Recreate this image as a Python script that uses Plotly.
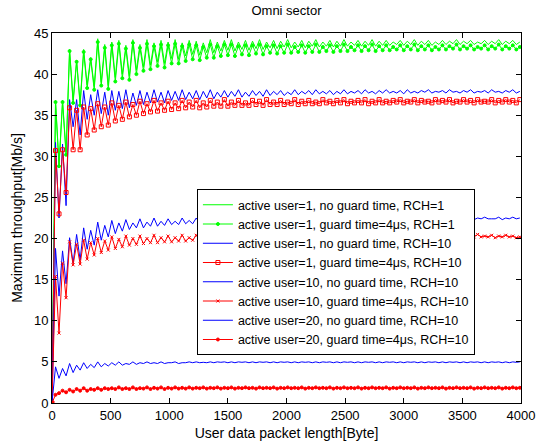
import plotly.graph_objects as go

# User data packet length in bytes (sampling grid of the throughput sweep)
packet_len = list(range(0, 4000, 30))

# Maximum throughput [Mb/s] per configuration
user1_noguard_rch1 = [
    0, 36.8, 29.0, 36.8, 30.5, 43.0, 36.8, 41.7, 36.5, 43.0,
    38.7, 42.0, 38.5, 44.3, 39.0, 43.6, 38.6, 43.9, 39.6, 44.1,
    40.0, 43.5, 39.8, 44.2, 40.5, 43.6, 40.9, 44.2, 41.1, 43.8,
    41.5, 44.1, 41.3, 43.9, 41.9, 44.2, 41.8, 43.8, 42.2, 44.1,
    42.4, 44.0, 42.3, 43.8, 42.6, 44.2, 42.6, 43.9, 42.8, 44.1,
    42.9, 44.2, 42.8, 43.9, 43.0, 44.1, 42.9, 44.0, 43.1, 44.2,
    43.0, 43.9, 43.2, 44.1, 43.1, 44.0, 43.3, 44.2, 43.2, 43.9,
    43.3, 44.1, 43.2, 44.0, 43.4, 44.2, 43.3, 43.9, 43.4, 44.1,
    43.3, 44.0, 43.4, 44.2, 43.4, 43.9, 43.5, 44.1, 43.4, 44.0,
    43.5, 44.2, 43.4, 44.0, 43.5, 44.1, 43.5, 43.9, 43.6, 44.1,
    43.5, 44.0, 43.6, 44.2, 43.5, 44.0, 43.6, 44.1, 43.5, 43.9,
    43.6, 44.1, 43.6, 44.0, 43.7, 44.2, 43.6, 44.0, 43.7, 44.1,
    43.6, 43.9, 43.7, 44.1, 43.6, 44.0, 43.7, 44.2, 43.6, 44.0,
    43.7, 44.1, 43.6, 43.9,
]
user1_guard_rch1 = [
    0, 36.6, 28.8, 36.6, 30.2, 42.8, 36.5, 41.5, 36.2, 42.7,
    38.3, 41.8, 38.1, 43.9, 38.6, 43.2, 38.2, 43.5, 39.1, 43.7,
    39.5, 43.1, 39.3, 43.8, 40.0, 43.2, 40.4, 43.7, 40.6, 43.4,
    41.0, 43.6, 40.8, 43.5, 41.3, 43.7, 41.3, 43.4, 41.6, 43.6,
    41.8, 43.5, 41.7, 43.3, 42.0, 43.6, 42.0, 43.4, 42.2, 43.6,
    42.3, 43.6, 42.2, 43.4, 42.4, 43.5, 42.3, 43.5, 42.5, 43.6,
    42.4, 43.4, 42.6, 43.5, 42.5, 43.4, 42.6, 43.6, 42.6, 43.3,
    42.7, 43.5, 42.6, 43.4, 42.7, 43.6, 42.7, 43.3, 42.8, 43.5,
    42.7, 43.4, 42.8, 43.6, 42.8, 43.3, 42.9, 43.5, 42.8, 43.4,
    42.9, 43.6, 42.8, 43.4, 42.9, 43.5, 42.9, 43.3, 43.0, 43.5,
    42.9, 43.4, 43.0, 43.6, 42.9, 43.4, 43.0, 43.5, 42.9, 43.3,
    43.0, 43.5, 43.0, 43.4, 43.1, 43.6, 43.0, 43.4, 43.1, 43.5,
    43.0, 43.3, 43.1, 43.5, 43.0, 43.4, 43.1, 43.6, 43.0, 43.4,
    43.1, 43.5, 43.0, 43.3,
]
user1_noguard_rch10 = [
    0, 31.7, 22.5, 31.5, 24.0, 36.9, 33.6, 36.9, 32.6, 38.0,
    34.5, 37.5, 35.0, 38.1, 35.2, 37.8, 35.0, 38.0, 35.6, 37.9,
    35.8, 38.1, 35.9, 37.7, 36.2, 38.0, 36.3, 37.8, 36.5, 38.1,
    36.6, 37.8, 36.5, 38.0, 36.8, 37.9, 36.8, 38.1, 36.9, 37.8,
    37.0, 38.0, 36.9, 37.9, 37.1, 38.1, 37.0, 37.8, 37.2, 38.0,
    37.2, 37.9, 37.3, 38.1, 37.2, 37.8, 37.3, 38.0, 37.4, 37.9,
    37.3, 38.1, 37.4, 37.9, 37.5, 38.0, 37.4, 37.8, 37.5, 38.1,
    37.5, 37.9, 37.6, 38.0, 37.5, 38.1, 37.6, 37.9, 37.6, 38.0,
    37.5, 37.9, 37.6, 38.1, 37.6, 37.9, 37.7, 38.0, 37.6, 38.1,
    37.7, 37.9, 37.6, 38.0, 37.7, 38.1, 37.7, 37.9, 37.7, 38.0,
    37.6, 38.1, 37.7, 37.9, 37.7, 38.0, 37.8, 38.1, 37.7, 37.9,
    37.8, 38.0, 37.7, 38.1, 37.8, 37.9, 37.7, 38.0, 37.8, 38.1,
    37.7, 37.9, 37.8, 38.0, 37.7, 38.1, 37.8, 37.9, 37.7, 38.0,
    37.8, 38.1, 37.7, 37.9,
]
user1_guard_rch10 = [
    0, 30.7, 23.0, 30.8, 25.6, 35.9, 30.8, 35.6, 30.8, 36.0,
    32.6, 35.8, 33.2, 36.4, 33.6, 36.0, 33.8, 36.5, 34.3, 36.2,
    34.5, 36.6, 34.8, 36.3, 35.0, 36.7, 35.2, 36.4, 35.4, 36.8,
    35.5, 36.5, 35.6, 36.7, 35.7, 36.5, 35.8, 36.8, 35.9, 36.6,
    36.0, 36.8, 35.9, 36.5, 36.0, 36.8, 36.1, 36.6, 36.1, 36.9,
    36.1, 36.6, 36.2, 36.8, 36.2, 36.5, 36.2, 36.8, 36.3, 36.7,
    36.2, 36.9, 36.3, 36.6, 36.3, 36.8, 36.3, 36.6, 36.4, 36.9,
    36.3, 36.7, 36.4, 36.8, 36.4, 36.6, 36.4, 36.9, 36.5, 36.7,
    36.4, 36.8, 36.5, 36.9, 36.4, 36.7, 36.5, 36.8, 36.5, 36.9,
    36.4, 36.7, 36.5, 36.9, 36.5, 36.7, 36.5, 36.8, 36.6, 36.9,
    36.5, 36.7, 36.6, 36.9, 36.5, 36.8, 36.6, 36.7, 36.5, 36.9,
    36.6, 36.8, 36.6, 36.9, 36.5, 36.7, 36.6, 36.9, 36.6, 36.8,
    36.5, 36.9, 36.6, 36.7, 36.6, 36.9, 36.5, 36.8, 36.6, 36.9,
    36.6, 36.8, 36.5, 36.9,
]
user10_noguard_rch10 = [
    0, 18.8, 13.0, 18.5, 14.5, 20.1, 17.0, 20.5, 17.4, 21.3,
    18.7, 21.0, 19.2, 22.0, 19.8, 21.6, 20.2, 22.2, 20.6, 21.9,
    20.9, 22.3, 21.1, 21.9, 21.3, 22.4, 21.3, 22.0, 21.5, 22.5,
    21.5, 22.1, 21.6, 22.4, 21.7, 22.1, 21.7, 22.5, 21.8, 22.2,
    21.8, 22.5, 21.9, 22.2, 21.9, 22.4, 21.9, 22.2, 22.0, 22.5,
    21.9, 22.3, 22.0, 22.5, 22.0, 22.2, 22.0, 22.4, 22.1, 22.6,
    22.0, 22.3, 22.1, 22.5, 22.1, 22.3, 22.1, 22.5, 22.1, 22.3,
    22.2, 22.5, 22.1, 22.4, 22.2, 22.6, 22.2, 22.3, 22.2, 22.5,
    22.2, 22.4, 22.3, 22.6, 22.2, 22.4, 22.3, 22.5, 22.3, 22.6,
    22.2, 22.4, 22.3, 22.6, 22.3, 22.4, 22.3, 22.5, 22.3, 22.6,
    22.3, 22.4, 22.4, 22.6, 22.3, 22.5, 22.4, 22.6, 22.3, 22.4,
    22.4, 22.6, 22.3, 22.5, 22.4, 22.6, 22.4, 22.4, 22.4, 22.6,
    22.3, 22.5, 22.4, 22.6, 22.4, 22.4, 22.4, 22.6, 22.3, 22.5,
    22.4, 22.6, 22.4, 22.5,
]
user10_guard_rch10 = [
    0, 15.4, 8.5, 17.0, 12.8, 19.6, 16.8, 19.3, 16.9, 19.8,
    17.5, 19.5, 18.0, 20.0, 18.3, 19.7, 18.6, 20.2, 18.8, 19.9,
    19.0, 20.3, 19.2, 20.0, 19.3, 20.3, 19.4, 20.0, 19.5, 20.4,
    19.5, 20.1, 19.6, 20.3, 19.6, 20.1, 19.7, 20.4, 19.7, 20.1,
    19.8, 20.4, 19.8, 20.2, 19.8, 20.4, 19.9, 20.1, 19.9, 20.4,
    19.9, 20.2, 19.9, 20.4, 20.0, 20.2, 19.9, 20.4, 20.0, 20.2,
    20.0, 20.4, 20.0, 20.2, 20.0, 20.5, 20.0, 20.2, 20.1, 20.4,
    20.0, 20.3, 20.1, 20.5, 20.1, 20.2, 20.1, 20.4, 20.1, 20.3,
    20.1, 20.5, 20.1, 20.3, 20.1, 20.4, 20.2, 20.3, 20.1, 20.5,
    20.2, 20.3, 20.1, 20.4, 20.2, 20.3, 20.2, 20.5, 20.1, 20.3,
    20.2, 20.4, 20.2, 20.3, 20.2, 20.5, 20.2, 20.3, 20.2, 20.4,
    20.1, 20.3, 20.2, 20.5, 20.2, 20.3, 20.2, 20.4, 20.2, 20.3,
    20.2, 20.5, 20.2, 20.3, 20.2, 20.4, 20.1, 20.3, 20.2, 20.4,
    20.2, 20.3, 20.1, 20.2,
]
user20_noguard_rch10 = [
    0, 4.4, 3.0, 4.2, 3.3, 4.8, 3.7, 4.6, 4.0, 4.9,
    4.2, 4.7, 4.3, 5.0, 4.4, 4.8, 4.5, 4.9, 4.6, 5.0,
    4.6, 4.8, 4.7, 5.0, 4.7, 4.9, 4.8, 5.0, 4.8, 4.9,
    4.8, 5.0, 4.8, 4.9, 4.9, 5.0, 4.8, 4.9, 4.9, 5.0,
    4.9, 5.0, 4.9, 4.95, 4.9, 5.0, 4.9, 5.0, 4.95, 5.0,
    4.9, 5.0, 4.9, 5.0, 4.95, 5.0, 4.9, 5.0, 4.9, 5.0,
    4.95, 5.0, 4.9, 5.0, 4.9, 5.0, 4.95, 5.0, 4.9, 5.0,
    4.9, 5.0, 4.95, 5.0, 4.9, 5.0, 4.9, 5.0, 4.95, 5.0,
    4.9, 5.0, 4.9, 5.0, 4.95, 5.0, 4.9, 5.0, 4.9, 5.0,
    4.95, 5.0, 4.9, 5.0, 4.9, 5.0, 4.95, 5.0, 4.9, 5.0,
    4.9, 5.0, 4.95, 5.0, 4.9, 5.0, 4.9, 5.0, 4.95, 5.0,
    4.9, 5.0, 4.9, 5.0, 4.95, 5.0, 4.9, 5.0, 4.9, 5.0,
    4.95, 5.0, 4.9, 5.0, 4.9, 5.0, 4.95, 5.0, 4.9, 5.0,
    4.9, 5.0, 4.95, 5.0,
]
user20_guard_rch10 = [
    0, 1.0, 1.2, 1.5, 1.3, 1.6, 1.4, 1.7, 1.5, 1.8,
    1.5, 1.7, 1.6, 1.8, 1.6, 1.8, 1.7, 1.8, 1.7, 1.9,
    1.7, 1.8, 1.7, 1.9, 1.7, 1.8, 1.75, 1.9, 1.7, 1.85,
    1.75, 1.9, 1.7, 1.85, 1.75, 1.9, 1.75, 1.85, 1.75, 1.9,
    1.75, 1.85, 1.8, 1.9, 1.75, 1.85, 1.8, 1.9, 1.75, 1.85,
    1.8, 1.9, 1.75, 1.85, 1.8, 1.9, 1.8, 1.85, 1.75, 1.9,
    1.8, 1.85, 1.8, 1.9, 1.75, 1.85, 1.8, 1.9, 1.8, 1.85,
    1.8, 1.9, 1.75, 1.85, 1.8, 1.9, 1.8, 1.85, 1.8, 1.9,
    1.75, 1.85, 1.8, 1.9, 1.8, 1.85, 1.8, 1.9, 1.75, 1.85,
    1.8, 1.9, 1.8, 1.85, 1.8, 1.9, 1.75, 1.85, 1.8, 1.9,
    1.8, 1.85, 1.8, 1.9, 1.75, 1.85, 1.8, 1.9, 1.8, 1.85,
    1.8, 1.9, 1.75, 1.85, 1.8, 1.9, 1.8, 1.85, 1.8, 1.9,
    1.75, 1.85, 1.8, 1.9, 1.8, 1.85, 1.8, 1.9, 1.75, 1.85,
    1.8, 1.9, 1.8, 1.85,
]

series_names = [
    "active user=1, no guard time, RCH=1",
    "active user=1, guard time=4μs, RCH=1",
    "active user=1, no guard time, RCH=10",
    "active user=1, guard time=4μs, RCH=10",
    "active user=10, no guard time, RCH=10",
    "active user=10, guard time=4μs, RCH=10",
    "active user=20, no guard time, RCH=10",
    "active user=20, guard time=4μs, RCH=10",
]
series_values = [
    user1_noguard_rch1, user1_guard_rch1,
    user1_noguard_rch10, user1_guard_rch10,
    user10_noguard_rch10, user10_guard_rch10,
    user20_noguard_rch10, user20_guard_rch10,
]

GREEN, BLUE, RED = "#00ff00", "#0000ff", "#ff0000"
styles = [
    dict(color=GREEN, mode="lines", marker=None),
    dict(color=GREEN, mode="lines+markers", marker=dict(symbol="circle", size=3)),
    dict(color=BLUE, mode="lines", marker=None),
    dict(color=RED, mode="lines+markers", marker=dict(symbol="square-open", size=4)),
    dict(color=BLUE, mode="lines", marker=None),
    dict(color=RED, mode="lines+markers", marker=dict(symbol="x-thin-open", size=3)),
    dict(color=BLUE, mode="lines", marker=None),
    dict(color=RED, mode="lines+markers", marker=dict(symbol="circle", size=3)),
]

FONT = "Arial, 'Liberation Sans', Helvetica, sans-serif"

fig = go.Figure()
for name, vals, st in zip(series_names, series_values, styles):
    kw = dict(x=packet_len, y=vals, name=name, mode=st["mode"],
              line=dict(color=st["color"], width=1))
    if st["marker"] is not None:
        m = dict(st["marker"])
        m["color"] = st["color"]
        m["line"] = dict(color=st["color"], width=1)
        kw["marker"] = m
    fig.add_trace(go.Scatter(**kw))

axis_common = dict(
    showline=True, linecolor="black", linewidth=1, mirror="ticks",
    ticks="inside", ticklen=5, tickcolor="black", tickwidth=1,
    showgrid=False, zeroline=False, automargin=False,
    tickfont=dict(family=FONT, size=13, color="black"),
)

fig.update_layout(
    width=536, height=443,
    margin=dict(l=52, r=15, t=33, b=40),
    paper_bgcolor="white", plot_bgcolor="white",
    font=dict(family=FONT, size=13, color="black"),
    title=dict(text="Omni sector", x=0.5, xref="paper", y=1 - 10 / 443,
               yref="container", yanchor="middle",
               font=dict(family=FONT, size=13, color="black")),
    xaxis=dict(range=[0, 4000], tickvals=list(range(0, 4001, 500)),
               title=dict(text="User data packet length[Byte]", standoff=6,
                          font=dict(family=FONT, size=14)),
               **axis_common),
    yaxis=dict(range=[0, 45], tickvals=list(range(0, 46, 5)),
               title=dict(text="Maximum throughput[Mb/s]", standoff=8,
                          font=dict(family=FONT, size=14)),
               **axis_common),
    legend=dict(x=0.309, y=0.578, xanchor="left", yanchor="top",
                bgcolor="white", bordercolor="black", borderwidth=1,
                font=dict(family=FONT, size=12.5, color="black"),
                tracegroupgap=0, itemwidth=30),
    showlegend=True,
)

fig.write_html("out.html")
